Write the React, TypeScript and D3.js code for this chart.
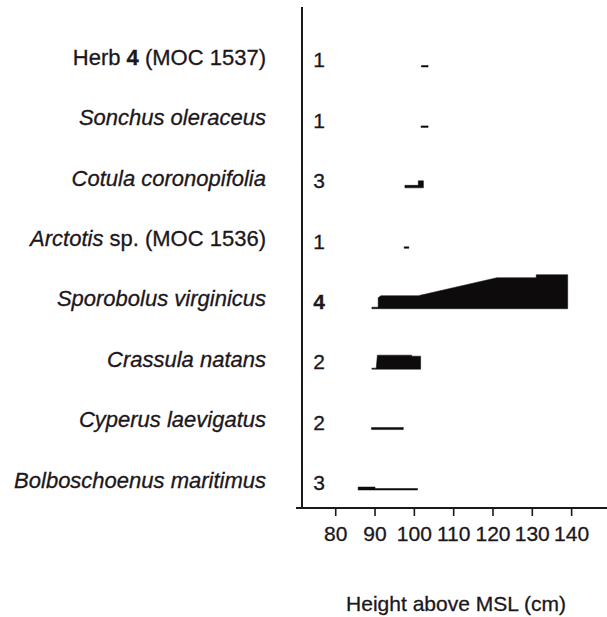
import React from "react";
import * as d3 from "d3";

const species = [
  "Herb 4 (MOC 1537)",
  "Sonchus oleraceus",
  "Cotula coronopifolia",
  "Arctotis sp. (MOC 1536)",
  "Sporobolus virginicus",
  "Crassula natans",
  "Cyperus laevigatus",
  "Bolboschoenus maritimus",
];
const counts = [1, 1, 3, 1, 4, 2, 2, 3];
const xTicks = [80, 90, 100, 110, 120, 130, 140];

// [height above MSL (cm), abundance]
const herb4: [number, number][] = [[101.8, 1.5], [103.5, 1.5]];
const sonchus: [number, number][] = [[101.7, 1.5], [103.5, 1.5]];
const cotula: [number, number][] = [[97.6, 2.5], [101, 2.5], [101, 7], [102.3, 7]];
const arctotis: [number, number][] = [[97.4, 1.5], [98.6, 1.5]];
const sporobolus: [number, number][] = [
  [89.2, 1.5], [90.8, 1.5], [90.8, 11], [91.5, 13], [101, 13], [121, 31], [131, 31], [131, 34], [139, 34],
];
const crassula: [number, number][] = [
  [89.2, 1], [90.3, 1], [90.6, 14], [99.3, 14], [99.3, 13], [101.6, 13],
];
const cyperus: [number, number][] = [[89.1, 2], [97.2, 2]];
const bolboschoenus: [number, number][] = [[85.7, 3], [90, 3], [90, 1.5], [100.8, 1.5]];

const profiles = [herb4, sonchus, cotula, arctotis, sporobolus, crassula, cyperus, bolboschoenus];

const W = 607;
const H = 617;
const ink = "#1c171b";
const font = "'Liberation Sans', Arial, Helvetica, sans-serif";
const textStroke = { stroke: ink, strokeWidth: 0.3 };

function Label({ name, x, y }: { name: string; x: number; y: number }) {
  if (name.startsWith("Herb")) {
    return (
      <text x={x} y={y} dy="0.35em" textAnchor="end" fontSize={22} fill={ink} fontFamily={font} {...textStroke}>
        <tspan>{"Herb "}</tspan>
        <tspan fontWeight="bold">4</tspan>
        <tspan>{" (MOC 1537)"}</tspan>
      </text>
    );
  }
  if (name.startsWith("Arctotis")) {
    return (
      <text x={x} y={y} dy="0.35em" textAnchor="end" fontSize={22} fill={ink} fontFamily={font} {...textStroke}>
        <tspan fontStyle="italic">Arctotis</tspan>
        <tspan>{" sp. (MOC 1536)"}</tspan>
      </text>
    );
  }
  return (
    <text x={x} y={y} dy="0.35em" textAnchor="end" fontSize={22} fontStyle="italic" fill={ink} fontFamily={font} {...textStroke}>
      {name}
    </text>
  );
}

export default function App() {
  const x = d3.scaleLinear().domain([70, 149]).range([296.4, 607]);
  const y = d3.scalePoint<string>().domain(species).range([59, 482]);
  const h = d3.scaleLinear().domain([0, 35]).range([0, 35]);
  const axisY = 508;
  const axisX = 302;

  return (
    <svg
      width={W}
      height={H}
      style={{ position: "absolute", left: 0, top: 0, background: "#fff" }}
    >
      <rect width={W} height={H} fill="#fff" />
      <line x1={axisX} x2={axisX} y1={7} y2={axisY} stroke={ink} strokeWidth={2} />
      <line x1={296} x2={W} y1={axisY} y2={axisY} stroke={ink} strokeWidth={2.2} />
      {xTicks.map((t) => (
        <g key={t}>
          <line x1={x(t)} x2={x(t)} y1={axisY} y2={axisY + 8} stroke={ink} strokeWidth={1.6} />
          <text x={x(t)} y={541} textAnchor="middle" fontSize={21} fill={ink} fontFamily={font} {...textStroke}>
            {t}
          </text>
        </g>
      ))}
      <text x={456} y={611} textAnchor="middle" fontSize={21} fill={ink} fontFamily={font} {...textStroke}>
        Height above MSL (cm)
      </text>
      {species.map((s, i) => {
        const cy = y(s)!;
        const base = cy + 8;
        const area = d3
          .area<[number, number]>()
          .x((d) => x(d[0]))
          .y0(base)
          .y1((d) => base - h(d[1]));
        return (
          <g key={s}>
            <Label name={s} x={266} y={cy - 2} />
            <text
              x={319}
              y={cy + 1}
              dy="0.35em"
              textAnchor="middle"
              fontSize={21}
              fontWeight={counts[i] === 4 ? "bold" : "normal"}
              fill={ink}
              fontFamily={font}
              {...textStroke}
            >
              {counts[i]}
            </text>
            <path d={area(profiles[i]) || ""} fill="#0d0b0c" stroke="#0d0b0c" strokeWidth={0.5} />
          </g>
        );
      })}
    </svg>
  );
}
